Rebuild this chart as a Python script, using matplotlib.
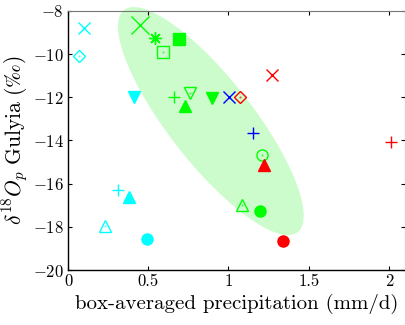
import numpy as np
import matplotlib
matplotlib.use("Agg")
import matplotlib.pyplot as plt

plt.rcParams['font.family'] = ['cmr10', 'DejaVu Serif']
plt.rcParams['mathtext.fontset'] = 'cm'
plt.rcParams['axes.formatter.use_mathtext'] = True

# data
precip = [0.10, 0.07, 0.45, 0.54, 0.69, 0.59, 0.41, 0.66, 0.76, 0.73,
          0.895, 1.005, 1.07, 1.27, 1.155, 2.01, 1.21, 1.22, 1.085, 1.195,
          1.34, 0.31, 0.38, 0.23, 0.49]
d18o = [-8.8, -10.1, -8.65, -9.25, -9.3, -9.9, -12.0, -12.0, -11.8, -12.4,
        -12.05, -12.0, -12.0, -10.95, -13.65, -14.05, -14.65, -15.15, -17.0, -17.25,
        -18.65, -16.3, -16.6, -17.95, -18.55]

# styles
C, G, B, R = '#00ffff', '#00ff00', '#0000ff', '#ff0000'
colors = [C, C, G, G, G, G, C, G, G, G,
          G, B, R, R, B, R, G, R, G, G,
          R, C, C, C, C]
markers = ['x', 'D', 'x', (8, 2, 0), 's', 's', 'v', '+', 'v', '^',
           'v', 'x', 'D', 'x', '+', '+', 'o', '^', '^', 'o',
           'o', '+', '^', '^', 'o']
filled = [False, False, False, False, True, False, True, False, False, True,
          True, False, False, False, False, False, False, True, False, True,
          True, False, True, False, True]
sizes = [9, 6, 13, 9, 8, 8, 8, 9, 8, 8,
         8, 9, 6, 9, 9, 9, 8, 8, 8, 8,
         8, 9, 8, 8, 8]

# ellipse (pixel-space shape of the highlighted region)
ell_cx, ell_cy = 0.89, -13.1
ell_a, ell_b, ell_ang = 141.0, 42.0, np.deg2rad(52)
px_per_x, px_per_y = 160.5, 21.6

fig = plt.figure(figsize=(4.06, 3.25), dpi=100)
ax = fig.add_axes([0.1675, 0.1692, 0.830, 0.797])

t = np.linspace(0, 2 * np.pi, 300)
dx = ell_a * np.cos(t) * np.cos(ell_ang) - ell_b * np.sin(t) * np.sin(ell_ang)
dy = ell_a * np.cos(t) * np.sin(ell_ang) + ell_b * np.sin(t) * np.cos(ell_ang)
ax.fill(ell_cx + dx / px_per_x, ell_cy - dy / px_per_y, color='#ccfccc',
        lw=0, zorder=1, clip_on=False)

for x, y, c, m, f, s in zip(precip, d18o, colors, markers, filled, sizes):
    if f:
        ax.plot(x, y, ls='none', marker=m, ms=s, mfc=c, mec=c, zorder=3)
    else:
        mfc = 'none' if m not in ('x', '+') and not isinstance(m, tuple) else c
        ax.plot(x, y, ls='none', marker=m, ms=s, mfc=mfc, mec=c, mew=1.0, zorder=3)
        if mfc == 'none':
            ax.plot(x, y, ls='none', marker='.', ms=1.0, color=c, alpha=0.7, zorder=3)

ax.set_xlim(0, 2.1)
ax.set_ylim(-20, -8)
ax.set_xticks([0, 0.5, 1, 1.5, 2])
ax.set_xticklabels(['0', '0.5', '1', '1.5', '2'])
ax.set_yticks([-20, -18, -16, -14, -12, -10, -8])
ax.tick_params(direction='in', length=3, labelsize=12, top=True, right=True,
               width=0.8, pad=3)
for side in ('top', 'right'):
    ax.spines[side].set_color('#777777')
ax.spines['left'].set_linewidth(1.0)
ax.spines['bottom'].set_linewidth(1.0)

ax.set_xlabel('box-averaged precipitation (mm/d)', fontsize=15, labelpad=3)
ax.set_ylabel(r'$\delta^{18}O_p\ \mathrm{Gulyia}\ (\mathrm{‰})$', fontsize=15.5, labelpad=1)

fig.savefig('out.png', dpi=100)
